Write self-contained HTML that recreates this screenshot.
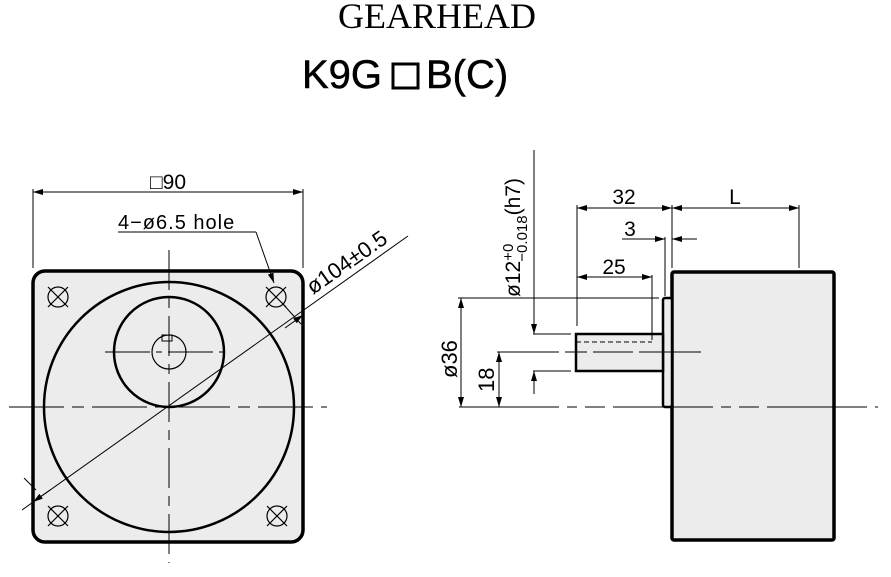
<!DOCTYPE html>
<html><head><meta charset="utf-8"><style>html,body{margin:0;padding:0;background:#fff}svg{display:block}</style></head>
<body>
<svg width="891" height="577" viewBox="0 0 891 577" xmlns="http://www.w3.org/2000/svg">
<defs>
<marker id="a" viewBox="0 0 10 6" refX="10" refY="3" markerWidth="10" markerHeight="6" orient="auto-start-reverse" markerUnits="userSpaceOnUse"><path d="M0,0 L10,3 L0,6 z" fill="#000"/></marker>
</defs>
<text x="437" y="28" font-family="Liberation Serif, serif" font-size="36" text-anchor="middle">GEARHEAD</text>
<g font-family="Liberation Sans, sans-serif" font-size="40" stroke="#000" stroke-width="0.5">
<text x="302" y="88">K9G</text>
<text x="426" y="88">B(C)</text>
</g>
<rect x="393" y="64" width="25" height="24" fill="none" stroke="#000" stroke-width="3"/>

<g fill="none" stroke="#000">
<rect x="33" y="271" width="270" height="271" rx="12" fill="#ececec" stroke-width="3.5"/>
<circle cx="169" cy="407" r="125" stroke-width="2.5"/>
<circle cx="169" cy="352" r="55" stroke-width="2.5"/>
<circle cx="169" cy="352" r="17" stroke-width="1.2"/>
<rect x="162" y="335" width="10" height="6" stroke-width="1"/>
<line x1="105" y1="352" x2="231" y2="352" stroke-width="1" stroke-dasharray="45,6,6,6"/>
<line x1="9" y1="407" x2="327" y2="407" stroke-width="1" stroke-dasharray="55,8,12,8"/>
<line x1="169" y1="250" x2="169" y2="563" stroke-width="1" stroke-dasharray="40,8,10,8"/>
<g stroke-width="1.2">
<circle cx="58" cy="297" r="10"/><line x1="48" y1="287" x2="68" y2="307"/><line x1="68" y1="287" x2="48" y2="307"/>
<circle cx="276" cy="297" r="10"/><line x1="266" y1="287" x2="286" y2="307"/><line x1="286" y1="287" x2="266" y2="307"/>
<circle cx="58" cy="516" r="10"/><line x1="48" y1="506" x2="68" y2="526"/><line x1="68" y1="506" x2="48" y2="526"/>
<circle cx="277" cy="516" r="10"/><line x1="267" y1="506" x2="287" y2="526"/><line x1="287" y1="506" x2="267" y2="526"/>
</g>
<line x1="33" y1="189" x2="33" y2="268" stroke-width="1"/>
<line x1="303" y1="189" x2="303" y2="268" stroke-width="1"/>
<line x1="33" y1="192" x2="303" y2="192" stroke-width="1" marker-start="url(#a)" marker-end="url(#a)"/>
<line x1="118" y1="232" x2="256" y2="232" stroke-width="1"/>
<line x1="256" y1="232" x2="274" y2="283" stroke-width="1" marker-end="url(#a)"/>
<line x1="22" y1="510" x2="408" y2="236" stroke-width="1"/>
<line x1="50" y1="490" x2="33" y2="502" stroke-width="1" marker-end="url(#a)"/>
<line x1="285" y1="328" x2="303" y2="315" stroke-width="1" marker-end="url(#a)"/>
<line x1="282" y1="303" x2="301" y2="324" stroke-width="1"/>
<line x1="36" y1="490" x2="24" y2="478" stroke-width="1"/>

<rect x="672" y="272" width="162" height="268" rx="2" fill="#ececec" stroke-width="3.5"/>
<rect x="663" y="298" width="9" height="109" rx="2" fill="#ececec" stroke-width="2.5"/>
<rect x="576" y="334" width="87" height="37" fill="#ececec" stroke-width="2.5"/>
<line x1="576" y1="342" x2="652" y2="342" stroke-width="1" stroke-dasharray="5,3"/>
<line x1="497" y1="352" x2="705" y2="352" stroke-width="1" stroke-dasharray="62,6,22,6,40,6"/>
<line x1="459" y1="407" x2="878" y2="407" stroke-width="1" stroke-dasharray="100,8,10,8,20,8"/>
<line x1="458" y1="298" x2="659" y2="298" stroke-width="1"/>
<line x1="461" y1="298" x2="461" y2="407" stroke-width="1" marker-start="url(#a)" marker-end="url(#a)"/>
<line x1="499" y1="352" x2="499" y2="407" stroke-width="1" marker-start="url(#a)" marker-end="url(#a)"/>
<line x1="533" y1="334" x2="571" y2="334" stroke-width="1"/>
<line x1="533" y1="371" x2="571" y2="371" stroke-width="1"/>
<line x1="534" y1="150" x2="534" y2="334" stroke-width="1" marker-end="url(#a)"/>
<line x1="534" y1="394" x2="534" y2="371" stroke-width="1" marker-end="url(#a)"/>
<line x1="577" y1="205" x2="577" y2="326" stroke-width="1"/>
<line x1="672" y1="205" x2="672" y2="268" stroke-width="1"/>
<line x1="799" y1="205" x2="799" y2="268" stroke-width="1"/>
<line x1="665" y1="237" x2="665" y2="296" stroke-width="1"/>
<line x1="652" y1="275" x2="652" y2="340" stroke-width="1"/>
<line x1="577" y1="208" x2="672" y2="208" stroke-width="1" marker-start="url(#a)" marker-end="url(#a)"/>
<line x1="672" y1="208" x2="799" y2="208" stroke-width="1" marker-start="url(#a)" marker-end="url(#a)"/>
<line x1="622" y1="239" x2="665" y2="239" stroke-width="1" marker-end="url(#a)"/>
<line x1="697" y1="239" x2="672" y2="239" stroke-width="1" marker-end="url(#a)"/>
<line x1="577" y1="277" x2="652" y2="277" stroke-width="1" marker-start="url(#a)" marker-end="url(#a)"/>
</g>

<g font-family="Liberation Sans, sans-serif" font-size="21" fill="#000">
<text x="168" y="189" text-anchor="middle">□90</text>
<text x="118" y="229" font-size="20" letter-spacing="1">4−ø6.5 hole</text>
<text transform="translate(313,295) rotate(-35)" font-size="22">ø104±0.5</text>
<text x="624" y="204" text-anchor="middle">32</text>
<text x="735" y="204" text-anchor="middle">L</text>
<text x="630" y="236" text-anchor="middle">3</text>
<text x="614" y="274" text-anchor="middle">25</text>
<text transform="translate(457,378) rotate(-90)" font-size="22">ø36</text>
<text transform="translate(494,392) rotate(-90)" font-size="22">18</text>
<text transform="translate(520,297) rotate(-90)">ø12<tspan font-size="15" dy="-7">+0</tspan><tspan font-size="15" dx="-18" dy="14">−0.018</tspan><tspan dy="-7">(h7)</tspan></text>
</g>
</svg>
</body></html>
